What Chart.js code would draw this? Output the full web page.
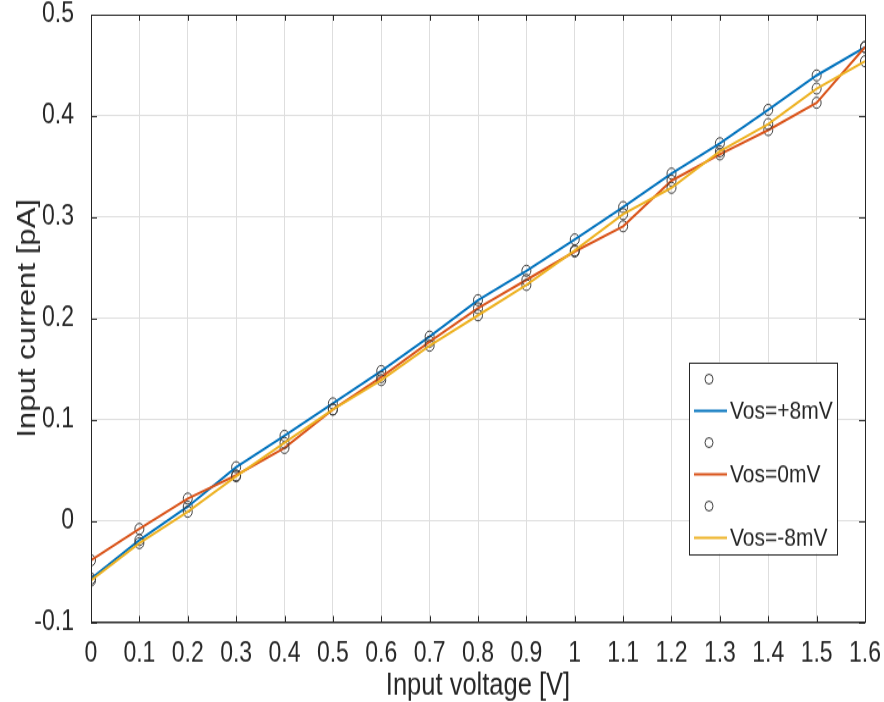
<!DOCTYPE html>
<html>
<head>
<meta charset="utf-8">
<script src="https://cdn.jsdelivr.net/npm/chart.js@4/dist/chart.umd.min.js"></script>
<style>
html,body{margin:0;padding:0;background:#fff;width:884px;height:702px;}
/* the reference picture is stretched vertically, so draw at 575px high and stretch */
#wrap{width:884px;height:575px;transform:scaleY(1.2209);transform-origin:0 0;}
#ctx{display:block;}
</style>
</head>
<body>
<div id="wrap"><canvas id="ctx" width="884" height="575"></canvas></div>
<script>
// Input voltage [V]
var voltage = [0, 0.1, 0.2, 0.3, 0.4, 0.5, 0.6, 0.7, 0.8, 0.9, 1.0, 1.1, 1.2, 1.3, 1.4, 1.5, 1.6];
// Input current [pA]
var vosPlus8  = [-0.057, -0.019, 0.014, 0.053, 0.084, 0.116, 0.148, 0.182, 0.218, 0.247, 0.278, 0.310, 0.343, 0.373, 0.406, 0.440, 0.468];
var vosZero   = [-0.039, -0.008, 0.022, 0.045, 0.072, 0.110, 0.142, 0.177, 0.210, 0.238, 0.266, 0.291, 0.336, 0.362, 0.386, 0.413, 0.468];
var vosMinus8 = [-0.059, -0.022, 0.009, 0.044, 0.077, 0.110, 0.139, 0.173, 0.203, 0.233, 0.267, 0.303, 0.329, 0.365, 0.392, 0.427, 0.454];
var seriesNames = ['Vos=+8mV', 'Vos=0mV', 'Vos=-8mV'];
var seriesColors = ['#0072BD', '#D95319', '#EDB120'];
var xLimits = [0, 1.6];
var yLimits = [-0.1, 0.5];

var FONT = "'Liberation Sans', Arial, Helvetica, sans-serif";
var INK = '#262626';

function pts(ys){
  var out = [];
  for (var i = 0; i < voltage.length; i++) out.push({x: voltage[i], y: ys[i]});
  return out;
}

var allSeries = [vosPlus8, vosZero, vosMinus8];
var datasets = [];
for (var s = 0; s < allSeries.length; s++) {
  // circles first, then the line (same order as the legend)
  datasets.push({
    label: '',
    data: pts(allSeries[s]),
    showLine: false,
    pointStyle: 'circle',
    pointRadius: 4.5,
    pointHoverRadius: 4.5,
    pointBorderWidth: 1,
    pointBorderColor: '#3a3a3a',
    pointBackgroundColor: 'rgba(0,0,0,0)',
    order: 6 - s*2
  });
  datasets.push({
    label: seriesNames[s],
    data: pts(allSeries[s]),
    showLine: true,
    borderColor: seriesColors[s],
    backgroundColor: seriesColors[s],
    borderWidth: 2,
    pointRadius: 0,
    tension: 0,
    fill: false,
    order: 5 - s*2
  });
}

// box on top/right + inward ticks, like matlab
var boxPlugin = {
  id: 'boxPlugin',
  afterDatasetsDraw: function(chart){
    var c = chart.ctx, a = chart.chartArea;
    var xs = chart.scales.x, ys = chart.scales.y;
    c.save();
    c.strokeStyle = INK;
    c.lineWidth = 1;
    c.beginPath();
    c.rect(a.left + 0.5, a.top + 0.5, a.right - a.left, a.bottom - a.top);
    c.stroke();
    c.beginPath();
    xs.ticks.forEach(function(t){
      var px = Math.round(xs.getPixelForValue(t.value)) + 0.5;
      c.moveTo(px, a.bottom); c.lineTo(px, a.bottom - 5);
      c.moveTo(px, a.top); c.lineTo(px, a.top + 5);
    });
    ys.ticks.forEach(function(t){
      var py = Math.round(ys.getPixelForValue(t.value)) + 0.5;
      c.moveTo(a.left, py); c.lineTo(a.left + 6, py);
      c.moveTo(a.right, py); c.lineTo(a.right - 6, py);
    });
    c.stroke();
    c.restore();
  }
};

// legend box inside the axes, lower right
var legendPlugin = {
  id: 'legendPlugin',
  afterDraw: function(chart){
    var c = chart.ctx, a = chart.chartArea;
    var right = a.right - 28, bottom = a.bottom - 56;
    var w = 148, h = 157;
    var left = right - w, top = bottom - h;
    c.save();
    c.fillStyle = '#fff';
    c.fillRect(left, top, w, h);
    c.strokeStyle = INK;
    c.lineWidth = 1;
    c.strokeRect(Math.round(left) + 0.5, Math.round(top) + 0.5, w, h);
    c.font = '21px ' + FONT;
    c.textBaseline = 'middle';
    c.fillStyle = INK;
    var y = top + 14;
    chart.data.datasets.forEach(function(ds){
      if (!ds.showLine) {
        c.beginPath();
        c.strokeStyle = '#3a3a3a';
        c.arc(left + 20, y, 4, 0, Math.PI*2);
        c.stroke();
      } else {
        c.beginPath();
        c.strokeStyle = ds.borderColor;
        c.lineWidth = 2;
        c.moveTo(left + 5, y); c.lineTo(left + 38, y);
        c.stroke();
        c.lineWidth = 1;
        c.fillText(ds.label, left + 41, y + 1);
      }
      y += 26;
    });
    c.restore();
  }
};

function tickText(v){ return String(+v.toFixed(1)); }

var chart = new Chart(document.getElementById('ctx'), {
  type: 'scatter',
  data: { datasets: datasets },
  options: {
    responsive: false,
    animation: false,
    events: [],
    layout: { padding: { left: 0, right: 19, top: 12, bottom: 0 } },
    plugins: { legend: { display: false }, tooltip: { enabled: false } },
    scales: {
      x: {
        type: 'linear',
        min: xLimits[0], max: xLimits[1],
        afterFit: function(sc){ sc.height = 65.5; sc.paddingLeft = 0; sc.paddingRight = 0; },
        ticks: { stepSize: 0.1, color: INK, padding: 12, font: { family: FONT, size: 23 }, callback: tickText, maxRotation: 0, autoSkip: false },
        grid: { color: '#dedede', drawTicks: false },
        border: { color: INK },
        title: { display: true, text: 'Input voltage [V]', color: INK, font: { family: FONT, size: 25.5, lineHeight: 1 }, padding: { top: 0, bottom: 0 } }
      },
      y: {
        type: 'linear',
        min: yLimits[0], max: yLimits[1],
        afterFit: function(sc){ sc.width = 91; sc.paddingTop = 0; sc.paddingBottom = 0; },
        ticks: { stepSize: 0.1, color: INK, padding: 17, font: { family: FONT, size: 23 }, callback: tickText },
        grid: { color: '#dedede', drawTicks: false },
        border: { color: INK },
        title: { display: true, text: 'Input current [pA]', color: INK, font: { family: FONT, size: 25.5, lineHeight: 1 }, padding: { top: 15, bottom: 0 } }
      }
    }
  },
  plugins: [boxPlugin, legendPlugin]
});
</script>
</body>
</html>
